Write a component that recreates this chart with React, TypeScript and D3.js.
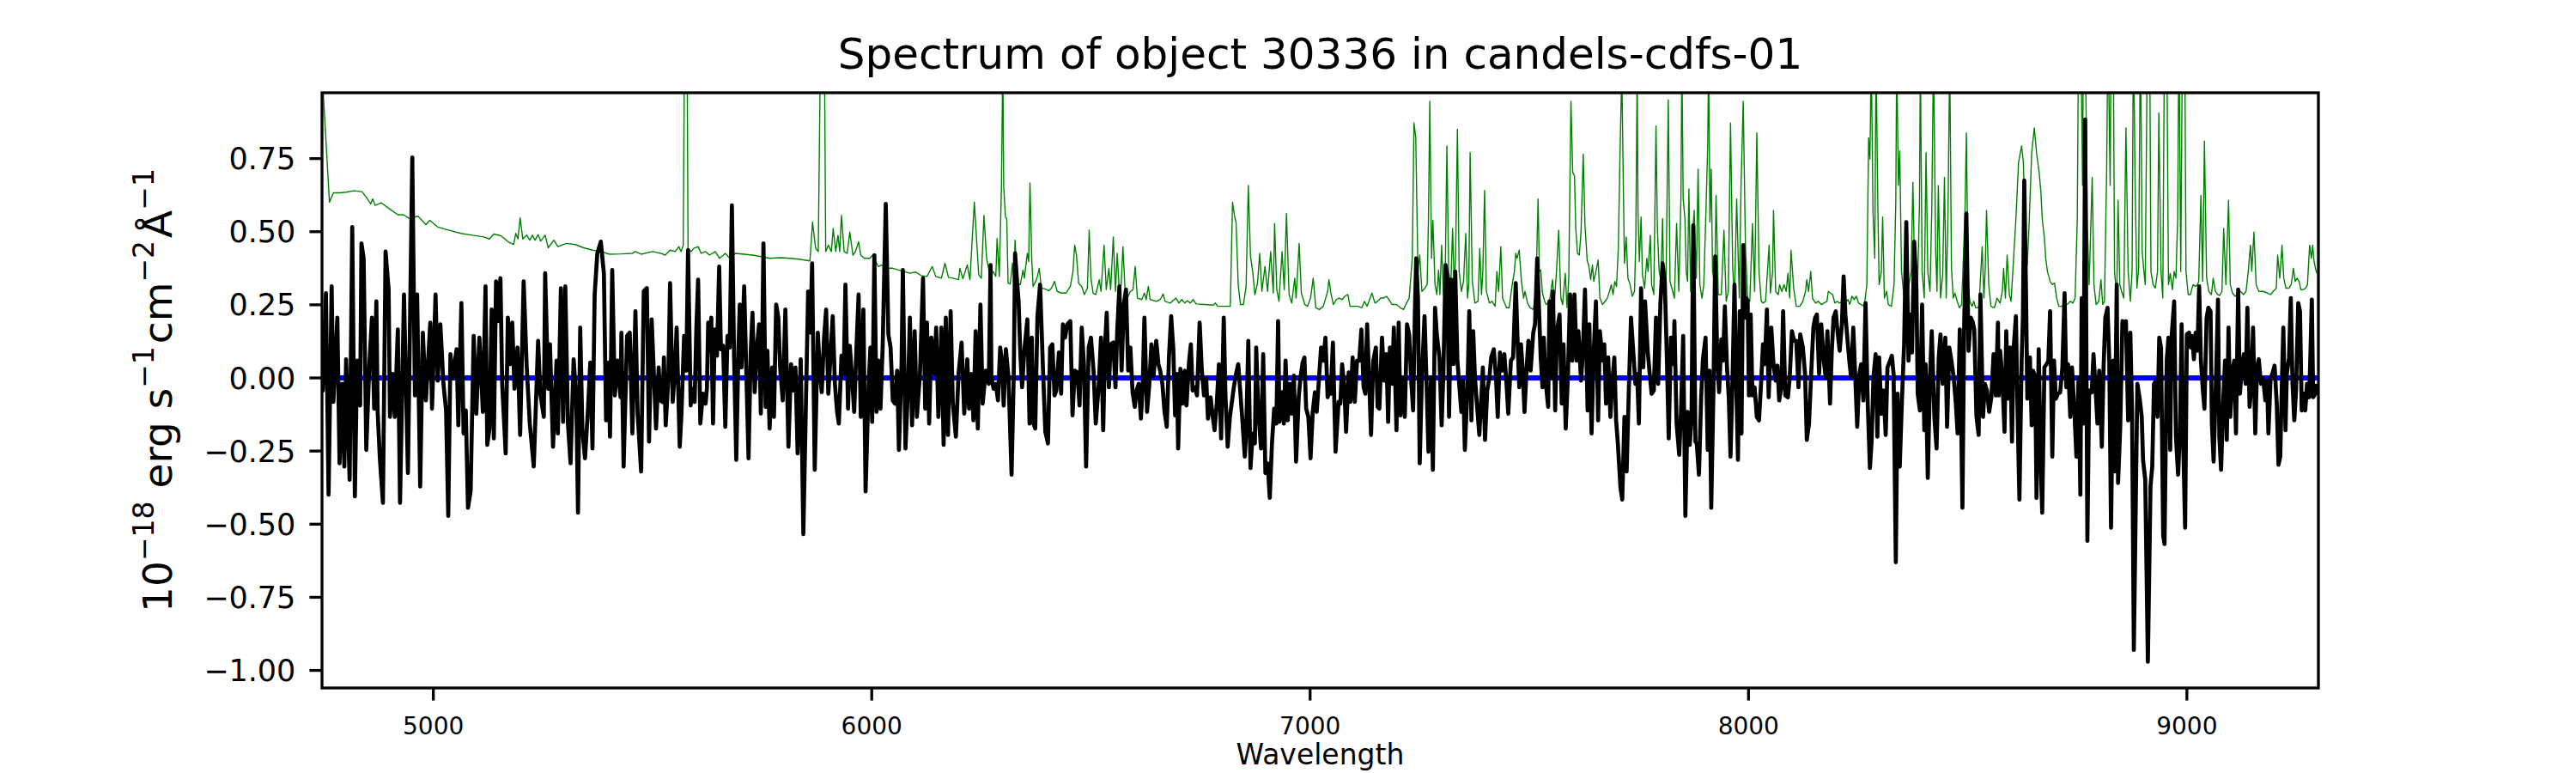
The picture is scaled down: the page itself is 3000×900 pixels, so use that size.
import * as d3 from 'd3';

const width = 3000;
const height = 900;
const margin = { top: 108, right: 300, bottom: 99, left: 375 };

const titleText = 'Spectrum of object 30336 in candels-cdfs-01';
const xLabelText = 'Wavelength';
const xDomain: [number, number] = [4746, 9300];
const yDomain: [number, number] = [-1.06, 0.975];
const xTickValues = [5000, 6000, 7000, 8000, 9000];
const yTickValues = [-1, -0.75, -0.5, -0.25, 0, 0.25, 0.5, 0.75];

const flux: [number, number][] = [
  [4746, 0.02], [4748, -0.043], [4755, 0.29], [4761, -0.399], [4768, 0.313], [4772, -0.082], [4781, 0.206],
  [4786, -0.292], [4792, -0.02], [4797, -0.303], [4801, 0.064], [4809, -0.348], [4815, 0.516], [4821, -0.405],
  [4826, 0.059], [4833, -0.094], [4836, 0.46], [4841, 0.409], [4847, -0.246], [4854, 0.047], [4860, 0.206],
  [4865, -0.105], [4870, 0.262], [4873, -0.116], [4878, -0.275], [4885, -0.427], [4891, 0.432], [4898, 0.302],
  [4901, -0.133], [4907, 0.014], [4912, -0.133], [4919, 0.166], [4924, -0.427], [4933, 0.285], [4942, -0.325],
  [4952, 0.754], [4958, -0.06], [4963, 0.285], [4970, -0.371], [4976, 0.155], [4983, -0.077], [4993, 0.189],
  [4997, -0.105], [5005, 0.285], [5010, -0.009], [5016, 0.183], [5023, -0.02], [5029, -0.111], [5034, -0.472],
  [5039, 0.081], [5044, 0.002], [5053, 0.098], [5057, -0.162], [5064, 0.256], [5069, -0.19], [5074, -0.111],
  [5079, -0.444], [5085, -0.388], [5092, 0.144], [5098, -0.122], [5105, 0.138], [5113, -0.116], [5119, 0.313],
  [5123, -0.229], [5128, -0.173], [5133, 0.234], [5138, -0.207], [5143, 0.33], [5147, 0.194], [5153, 0.341],
  [5157, -0.02], [5165, -0.258], [5170, 0.206], [5175, 0.047], [5180, 0.189], [5185, -0.037], [5192, 0.104],
  [5198, -0.195], [5206, 0.33], [5213, 0.036], [5220, -0.156], [5229, -0.303], [5239, 0.127], [5244, -0.054],
  [5252, -0.133], [5255, 0.358], [5262, -0.037], [5266, 0.115], [5273, -0.235], [5281, 0.059], [5284, -0.19],
  [5291, 0.307], [5296, -0.15], [5301, 0.313], [5307, -0.156], [5313, -0.292], [5320, 0.064], [5326, -0.071],
  [5330, -0.461], [5335, 0.172], [5340, -0.179], [5346, -0.275], [5353, -0.099], [5358, 0.053], [5363, -0.241],
  [5368, 0.285], [5374, 0.426], [5382, 0.466], [5389, 0.358], [5394, -0.145], [5399, 0.053], [5403, -0.201],
  [5408, 0.369], [5414, -0.06], [5420, 0.059], [5427, -0.066], [5429, 0.155], [5434, -0.303], [5442, 0.144],
  [5448, 0.155], [5454, -0.19], [5461, 0.228], [5466, -0.122], [5474, -0.32], [5480, 0.296], [5487, 0.307],
  [5492, -0.218], [5498, 0.2],
  [5508, -0.173], [5514, 0.036], [5518, -0.077], [5523, -0.082], [5526, 0.07], [5530, -0.162], [5536, -0.003],
  [5540, 0.324], [5546, -0.082], [5551, 0.025], [5555, 0.172], [5562, -0.235], [5566, -0.122], [5572, 0.144],
  [5577, 0.025], [5581, 0.437], [5587, -0.094], [5591, -0.037], [5596, -0.082], [5600, 0.172], [5604, 0.336],
  [5609, -0.156], [5615, -0.054], [5621, -0.088], [5624, -0.037], [5627, 0.189], [5630, 0.093], [5634, 0.206],
  [5638, -0.156], [5642, 0.166], [5647, 0.076], [5652, 0.381], [5656, 0.098], [5661, 0.11], [5666, -0.167],
  [5671, 0.144], [5676, 0.104], [5681, 0.59], [5686, 0.07], [5691, -0.28], [5696, 0.104], [5699, 0.251],
  [5703, 0.036], [5709, 0.313], [5714, 0.014], [5719, -0.275], [5724, 0.093], [5728, 0.223], [5733, -0.049],
  [5738, 0.104], [5743, 0.183], [5747, -0.122], [5750, 0.093], [5753, 0.46], [5758, -0.099], [5762, 0.093],
  [5767, -0.173], [5773, 0.036], [5777, -0.133], [5782, 0.251], [5787, 0.206], [5791, 0.036], [5797, -0.077],
  [5803, 0.234], [5810, -0.235], [5816, 0.047], [5821, -0.043], [5826, 0.036], [5831, -0.258], [5838, 0.064],
  [5844, -0.534], [5850, -0.077], [5855, 0.296], [5860, 0.155], [5864, 0.392], [5870, -0.314], [5877, 0.155],
  [5882, 0.014], [5886, -0.049], [5891, 0.132], [5896, 0.234], [5901, -0.054], [5906, 0.076], [5911, 0.211],
  [5916, -0.02], [5921, -0.116], [5925, -0.156], [5931, 0.076], [5936, 0.014], [5940, 0.319], [5946, -0.105],
  [5950, 0.11], [5955, 0.002], [5960, -0.116], [5964, 0.059], [5970, 0.285], [5975, -0.133], [5981, 0.234],
  [5986, -0.388], [5993, -0.02], [5997, 0.104], [6001, -0.15], [6006, 0.42], [6011, -0.116], [6015, 0.059],
  [6020, -0.105], [6025, 0.11], [6032, 0.595], [6038, 0.149], [6043, 0.104], [6048, -0.077], [6053, -0.088],
  [6058, 0.025], [6062, -0.246], [6068, 0.047], [6071, 0.369], [6077, -0.241], [6083, -0.026], [6087, 0.206],
  [6092, -0.162], [6098, 0.16], [6103, -0.133], [6110, 0.014], [6117, 0.341], [6122, -0.105], [6126, 0.189],
  [6131, -0.156], [6136, 0.138], [6143, 0.014], [6147, 0.172], [6152, -0.133], [6159, 0.172], [6164, -0.229],
  [6169, 0.206], [6174, -0.195], [6180, 0.228], [6185, -0.088], [6192, -0.201], [6198, 0.014], [6205, 0.121],
  [6211, -0.122], [6218, 0.064], [6222, -0.105], [6227, 0.014], [6232, -0.145], [6237, 0.16], [6242, -0.173],
  [6248, 0.251], [6253, -0.088], [6260, 0.025], [6267, -0.02], [6271, 0.386],
  [6273, 0.002], [6278, -0.037], [6283, -0.02], [6288, -0.077], [6293, 0.104], [6297, 0.059], [6301, -0.094],
  [6306, 0.098], [6312, 0.002], [6319, -0.331], [6324, 0.014], [6327, 0.426], [6332, 0.319], [6335, 0.262],
  [6339, 0.081], [6343, -0.032], [6348, 0.093], [6355, 0.2], [6360, -0.156], [6365, 0.138], [6369, -0.156],
  [6373, -0.173], [6378, 0.211], [6384, 0.319], [6391, 0.014], [6396, -0.184], [6402, -0.224], [6407, 0.104],
  [6412, 0.115], [6417, -0.06], [6421, -0.043], [6427, 0.087], [6432, -0.054], [6436, 0.183], [6441, 0.138],
  [6446, 0.183], [6453, 0.194], [6458, -0.128], [6463, 0.025], [6469, 0.019], [6474, -0.094], [6479, 0.172],
  [6484, 0.047], [6489, -0.303], [6495, 0.104], [6500, 0.138], [6506, 0.025], [6511, -0.156], [6518, -0.02],
  [6523, 0.138], [6528, -0.179], [6532, 0.104], [6536, 0.223], [6541, -0.032], [6545, 0.115], [6551, 0.121],
  [6556, -0.032], [6560, 0.16], [6565, 0.313], [6570, 0.025], [6575, 0.251], [6580, 0.302], [6585, 0.025],
  [6590, 0.104], [6595, -0.049], [6600, -0.099], [6604, -0.043], [6609, -0.02], [6614, -0.139], [6618, -0.032],
  [6622, 0.206], [6628, -0.116], [6633, -0.026], [6638, 0.115], [6643, 0.008], [6649, 0.127], [6654, 0.047],
  [6658, 0.025], [6663, -0.02], [6668, -0.116], [6673, -0.167], [6678, 0.07], [6683, 0.211], [6688, 0.098],
  [6692, -0.128], [6696, 0.014], [6699, -0.241], [6704, 0.031], [6709, -0.088], [6714, 0.025], [6718, -0.094],
  [6724, 0.059], [6728, 0.115], [6732, -0.043], [6737, -0.032], [6742, -0.06], [6748, 0.189], [6753, 0.025],
  [6758, -0.06], [6763, -0.003], [6767, -0.139], [6773, -0.066], [6778, -0.133], [6782, -0.179], [6787, -0.088],
  [6792, 0.047], [6797, -0.207], [6803, 0.206], [6807, -0.066], [6812, -0.235], [6817, -0.133], [6821, -0.088],
  [6826, -0.032], [6831, 0.014], [6836, 0.047], [6840, -0.032], [6846, -0.156], [6851, -0.269], [6854, -0.19],
  [6859, 0.127], [6864, -0.308], [6869, -0.19], [6874, -0.224], [6877, 0.104], [6882, -0.116], [6888, -0.241],
  [6893, 0.081], [6898, -0.325], [6903, -0.292], [6908, -0.41], [6913, -0.224], [6918, -0.105], [6923, -0.156],
  [6927, 0.194], [6930, -0.15], [6936, -0.049], [6940, -0.156], [6944, 0.059], [6949, -0.145], [6954, -0.02],
  [6958, -0.122], [6963, 0.008], [6968, -0.286], [6974, -0.066], [6978, 0.002], [6983, 0.053], [6987, 0.07],
  [6991, -0.105], [6996, -0.133], [7001, -0.275], [7006, -0.116], [7011, -0.049], [7015, -0.116], [7021, 0.014],
  [7025, 0.104], [7030, 0.059], [7035, 0.138], [7040, -0.066], [7045, -0.043],
  [7047, -0.054], [7052, 0.121], [7058, -0.252], [7065, -0.082], [7069, -0.088], [7073, 0.047], [7078, -0.032],
  [7082, -0.184], [7088, 0.019], [7092, -0.082], [7097, 0.07], [7102, -0.082], [7107, 0.059], [7112, 0.059],
  [7117, 0.166], [7122, -0.032], [7126, -0.054], [7130, 0.183], [7135, -0.02], [7139, -0.195], [7144, 0.059],
  [7150, 0.104], [7154, -0.099], [7158, -0.105], [7164, 0.138], [7169, -0.009], [7174, 0.081], [7178, -0.15],
  [7182, 0.104], [7187, -0.02], [7191, 0.172], [7197, -0.179], [7202, 0.189], [7206, -0.128], [7211, 0.002],
  [7216, -0.133], [7221, 0.183], [7226, 0.149], [7231, -0.02], [7235, -0.111], [7239, 0.228], [7242, 0.409],
  [7246, 0.273], [7250, -0.292], [7255, 0.002], [7261, 0.211], [7265, 0.014], [7270, -0.252], [7276, 0.002],
  [7280, -0.314], [7285, 0.24], [7289, 0.149], [7295, 0.07], [7300, -0.162], [7304, 0.019], [7309, 0.386],
  [7313, 0.341], [7317, -0.133], [7322, 0.336], [7327, 0.047], [7331, 0.364], [7336, 0.059], [7340, -0.02],
  [7345, -0.116], [7349, -0.009], [7353, -0.246], [7359, -0.032], [7363, 0.228], [7368, -0.145], [7372, 0.16],
  [7376, 0.002], [7381, -0.099], [7386, -0.195], [7391, -0.054], [7394, 0.036], [7399, -0.212], [7404, -0.043],
  [7409, 0.002], [7413, 0.07], [7419, 0.098], [7424, 0.002], [7428, -0.133], [7433, 0.087], [7438, 0.025],
  [7443, 0.081], [7448, -0.02], [7452, -0.122], [7458, 0.059], [7463, 0.07], [7469, 0.324], [7474, 0.093],
  [7477, -0.032], [7481, 0.115], [7485, 0.025], [7489, -0.116], [7494, 0.036], [7498, 0.127], [7503, 0.025],
  [7509, 0.155], [7513, 0.183], [7518, 0.409], [7522, 0.24], [7526, 0.07], [7530, -0.032], [7533, 0.138],
  [7537, -0.009], [7543, -0.099], [7546, 0.262], [7550, 0.002], [7554, 0.296], [7559, -0.111], [7563, 0.16],
  [7569, 0.217], [7574, -0.088], [7578, 0.115], [7583, -0.173], [7588, 0.002], [7593, 0.285], [7598, 0.059],
  [7603, 0.285], [7608, 0.059], [7612, 0.16], [7618, -0.009], [7622, 0.081], [7627, 0.302], [7633, -0.111],
  [7637, 0.183], [7642, -0.19], [7647, 0.093], [7652, 0.262], [7657, -0.145], [7661, 0.16], [7667, 0.059],
  [7671, 0.115], [7675, -0.088], [7680, 0.07], [7685, -0.133], [7689, -0.02], [7694, 0.07], [7698, -0.145],
  [7702, -0.224], [7708, -0.376], [7712, -0.416], [7717, -0.133], [7722, -0.32], [7727, -0.043], [7732, 0.206],
  [7737, 0.093], [7742, -0.02], [7746, 0.014], [7750, -0.156], [7755, 0.307], [7760, 0.036], [7764, 0.262],
  [7770, 0.093], [7774, 0.025], [7779, -0.054], [7784, -0.043], [7789, 0.206], [7794, -0.02], [7799, 0.251],
  [7804, 0.392], [7809, 0.33],
  [7814, 0.059], [7818, -0.207], [7823, 0.138], [7829, 0.047], [7831, 0.194], [7836, -0.156], [7842, -0.263],
  [7846, -0.116], [7851, 0.144], [7856, -0.472], [7861, -0.116], [7866, -0.229], [7870, -0.145], [7874, 0.522],
  [7879, -0.218], [7882, -0.224], [7887, -0.331], [7892, -0.066], [7896, 0.064], [7902, 0.138], [7907, -0.246],
  [7911, 0.025], [7915, -0.444], [7920, -0.043], [7924, 0.415], [7929, 0.047], [7933, -0.049], [7938, 0.132],
  [7942, 0.059], [7946, 0.245], [7951, 0.036], [7955, -0.066], [7959, -0.269], [7964, 0.025], [7968, 0.319],
  [7972, -0.02], [7976, -0.28], [7980, 0.228], [7984, -0.19], [7988, 0.454], [7992, 0.206], [7995, 0.273],
  [7998, 0.262], [8001, -0.06], [8005, 0.217], [8009, -0.06], [8014, -0.032], [8019, -0.133], [8024, -0.145],
  [8029, -0.009], [8033, 0.115], [8037, 0.047], [8042, 0.234], [8046, -0.066], [8052, 0.172], [8057, 0.047],
  [8062, -0.009], [8066, 0.042], [8070, -0.077], [8075, -0.032], [8079, 0.228], [8084, -0.06], [8090, -0.066],
  [8094, 0.002], [8099, 0.16], [8104, 0.127], [8109, 0.127], [8114, -0.032], [8118, 0.149], [8124, 0.104],
  [8129, 0.014], [8133, -0.212], [8138, -0.156], [8143, 0.014], [8148, 0.172], [8152, 0.206], [8156, 0.217],
  [8161, 0.014], [8166, 0.183], [8171, 0.07], [8176, 0.002], [8180, 0.16], [8186, -0.088], [8190, 0.093],
  [8194, 0.206], [8199, 0.228], [8203, 0.16], [8208, 0.093], [8213, 0.183], [8217, 0.347], [8221, 0.217],
  [8226, 0.127], [8230, 0.059], [8234, 0.002], [8239, 0.172], [8243, 0.025], [8248, -0.167], [8253, 0.014],
  [8257, 0.047], [8262, -0.077], [8267, 0.256], [8272, -0.088], [8277, -0.308], [8281, -0.212], [8285, 0.002],
  [8290, 0.081], [8294, -0.201], [8298, 0.07], [8303, -0.122], [8308, -0.043], [8313, -0.195], [8317, 0.036],
  [8323, 0.059], [8327, 0.076], [8331, 0.014], [8336, -0.63], [8340, -0.054], [8345, -0.303], [8350, -0.077],
  [8355, 0.115], [8360, 0.533], [8365, 0.059], [8370, 0.217], [8373, 0.087], [8378, 0.466], [8383, 0.307],
  [8386, -0.054], [8391, -0.111], [8396, 0.251], [8401, -0.179], [8404, 0.047], [8409, -0.342], [8414, 0.002],
  [8418, 0.16], [8424, -0.133], [8429, -0.241], [8434, 0.07], [8438, 0.149], [8443, -0.02], [8449, 0.138],
  [8453, -0.167], [8458, 0.104], [8463, 0.059], [8468, 0.002], [8473, -0.088], [8477, -0.19], [8482, 0.166],
  [8488, -0.444], [8492, 0.183], [8497, 0.562], [8502, 0.093], [8507, 0.206], [8511, 0.194], [8515, 0.166],
  [8520, -0.133], [8525, -0.195], [8529, 0.285], [8535, -0.133], [8539, -0.02], [8544, -0.043], [8549, -0.116],
  [8554, -0.066], [8559, 0.081], [8564, -0.06], [8569, 0.189],
  [8571, -0.06], [8574, 0.093], [8579, 0.002], [8584, -0.184], [8588, 0.16], [8592, -0.071], [8597, 0.104],
  [8601, -0.218], [8605, 0.104], [8610, 0.211], [8614, -0.133], [8618, -0.416], [8623, 0.059], [8626, 0.206],
  [8629, 0.675], [8633, 0.296], [8636, -0.071], [8639, 0.07], [8642, 0.07], [8646, -0.162], [8649, 0.025],
  [8654, 0.002], [8657, -0.41], [8662, 0.098], [8667, -0.314], [8670, -0.461], [8675, 0.036], [8680, 0.047],
  [8684, 0.059], [8688, 0.228], [8693, -0.269], [8697, 0.059], [8701, -0.071], [8706, -0.054], [8711, -0.049],
  [8716, 0.036], [8721, 0.29], [8725, -0.032], [8729, 0.047], [8734, -0.133], [8738, 0.036], [8744, -0.133],
  [8748, -0.269], [8753, 0.002], [8757, -0.399], [8760, 0.273], [8764, -0.156], [8768, 0.884], [8773, -0.557],
  [8777, -0.043], [8783, -0.049], [8787, 0.081], [8791, -0.02], [8796, -0.156], [8800, 0.025], [8806, -0.235],
  [8810, 0.036], [8814, 0.206], [8819, 0.24], [8823, 0.059], [8827, -0.512], [8832, 0.059], [8835, -0.319],
  [8840, 0.319], [8843, -0.359], [8848, -0.167], [8853, 0.194], [8856, 0.166], [8861, 0.194], [8866, -0.145],
  [8871, 0.155], [8875, -0.122], [8879, -0.93], [8887, -0.02], [8892, -0.066], [8897, -0.133], [8900, -0.28],
  [8905, -0.348], [8911, -0.97], [8917, -0.371], [8921, -0.303], [8925, -0.02], [8930, -0.009], [8933, -0.133],
  [8937, 0.138], [8941, 0.104], [8946, -0.54], [8949, -0.568], [8954, 0.059], [8958, 0.138], [8962, -0.246],
  [8965, 0.138], [8971, 0.262], [8975, -0.201], [8980, -0.331], [8984, -0.19], [8988, 0.183], [8992, -0.246],
  [8996, -0.512], [9000, 0.149], [9005, 0.155], [9009, 0.104], [9012, 0.144], [9016, 0.064], [9020, 0.155],
  [9024, 0.093], [9028, 0.313], [9032, 0.059], [9036, -0.032], [9040, -0.105], [9045, 0.206], [9049, 0.24],
  [9054, 0.228], [9057, -0.156], [9061, -0.286], [9067, 0.025], [9071, 0.268], [9074, -0.201], [9078, -0.314],
  [9083, -0.077], [9087, 0.059], [9091, -0.212], [9095, 0.172], [9099, -0.133], [9104, 0.025], [9108, 0.059],
  [9112, -0.19], [9117, 0.302], [9121, -0.054], [9125, 0.025], [9130, 0.081], [9134, -0.02], [9138, 0.24],
  [9143, -0.099], [9147, -0.032], [9151, 0.172], [9156, -0.19], [9160, 0.036], [9164, 0.064], [9169, -0.02],
  [9174, -0.003], [9179, -0.077], [9183, -0.009], [9186, -0.19], [9191, 0.002], [9195, 0.014], [9200, 0.042],
  [9205, -0.088], [9209, -0.297], [9213, -0.269], [9217, 0.002], [9220, 0.172], [9225, -0.179], [9228, 0.014],
  [9233, 0.07], [9237, 0.273], [9241, -0.02], [9245, -0.145], [9249, -0.043], [9254, 0.256], [9258, 0.228],
  [9262, -0.111], [9267, -0.054], [9270, -0.111], [9274, -0.02], [9279, -0.066], [9282, 0.093], [9285, 0.268],
  [9288, -0.066], [9293, -0.054], [9296, -0.02],
];

// contamination (green); values above the frame are clipped peaks
const contam: [number, number][] = [
  [4746, 1.05], [4763, 0.601], [4772, 0.633], [4788, 0.633], [4801, 0.635], [4818, 0.64], [4837, 0.637],
  [4847, 0.618], [4857, 0.595], [4862, 0.612], [4867, 0.59], [4881, 0.599], [4899, 0.579], [4919, 0.558],
  [4932, 0.558], [4945, 0.545], [4965, 0.553], [4983, 0.524], [4992, 0.539], [5010, 0.516], [5036, 0.505],
  [5063, 0.494], [5089, 0.488], [5115, 0.482], [5128, 0.475], [5138, 0.492], [5154, 0.486], [5170, 0.466],
  [5183, 0.456], [5188, 0.494], [5193, 0.475], [5198, 0.547], [5204, 0.475], [5213, 0.488], [5220, 0.471],
  [5226, 0.488], [5232, 0.471], [5239, 0.49], [5245, 0.468], [5255, 0.488], [5262, 0.445], [5275, 0.471],
  [5284, 0.449], [5304, 0.46], [5324, 0.456], [5343, 0.445], [5363, 0.437], [5382, 0.432], [5402, 0.423],
  [5428, 0.424], [5454, 0.426], [5461, 0.432], [5474, 0.423], [5500, 0.432],
  [5519, 0.426], [5529, 0.42], [5540, 0.437], [5552, 0.432], [5560, 0.449], [5565, 0.432], [5570, 0.454],
  [5574, 1.4], [5578, 1.4], [5581, 0.443], [5588, 0.432], [5594, 0.443], [5604, 0.449], [5611, 0.426],
  [5621, 0.432], [5630, 0.42], [5643, 0.432], [5653, 0.409], [5666, 0.426], [5676, 0.409], [5689, 0.426],
  [5709, 0.423], [5728, 0.42], [5748, 0.415], [5767, 0.409], [5793, 0.411], [5813, 0.409], [5833, 0.406],
  [5859, 0.4], [5865, 0.533], [5872, 0.443], [5878, 0.432], [5885, 1.4], [5891, 1.4], [5895, 0.432],
  [5901, 0.454], [5908, 0.432], [5912, 0.511], [5918, 0.432], [5923, 0.488], [5927, 0.432], [5931, 0.556],
  [5937, 0.432], [5944, 0.426], [5950, 0.499], [5957, 0.42], [5963, 0.432], [5970, 0.466], [5975, 0.42],
  [5983, 0.409], [5996, 0.409], [6002, 0.42], [6009, 0.398], [6015, 0.381], [6022, 0.386], [6035, 0.375],
  [6048, 0.375], [6061, 0.369], [6074, 0.364], [6087, 0.358], [6100, 0.362], [6113, 0.35], [6126, 0.347],
  [6138, 0.381], [6146, 0.347], [6159, 0.341], [6167, 0.392], [6175, 0.344], [6185, 0.341], [6198, 0.336],
  [6201, 0.375], [6208, 0.339], [6218, 0.386], [6224, 0.336], [6234, 0.601], [6244, 0.353], [6250, 0.341],
  [6256, 0.556], [6262, 0.409],
  [6270, 0.347], [6277, 0.364], [6283, 0.347], [6286, 0.477], [6291, 0.347], [6296, 0.658], [6299, 1.1],
  [6301, 0.658], [6305, 0.55], [6308, 0.545], [6311, 0.324], [6316, 0.321], [6321, 0.392], [6324, 0.319],
  [6327, 0.471], [6332, 0.324], [6339, 0.319], [6345, 0.369], [6348, 0.341], [6355, 0.426], [6358, 0.398],
  [6361, 0.667], [6365, 0.409], [6368, 0.313], [6374, 0.33], [6378, 0.347], [6382, 0.375], [6387, 0.307],
  [6394, 0.305], [6404, 0.298], [6410, 0.307], [6417, 0.33], [6423, 0.296], [6433, 0.29], [6443, 0.29],
  [6453, 0.313], [6459, 0.364], [6463, 0.454], [6467, 0.42], [6472, 0.324], [6479, 0.313], [6485, 0.285],
  [6492, 0.307], [6496, 0.505], [6500, 0.341], [6505, 0.29], [6511, 0.285], [6519, 0.336], [6523, 0.296],
  [6530, 0.454], [6535, 0.302], [6541, 0.375], [6545, 0.302], [6551, 0.482], [6556, 0.296], [6560, 0.426],
  [6565, 0.29], [6569, 0.319], [6573, 0.449], [6578, 0.296], [6583, 0.273], [6590, 0.296], [6596, 0.302],
  [6601, 0.381], [6606, 0.273], [6616, 0.268], [6622, 0.29], [6626, 0.268], [6631, 0.313], [6635, 0.268],
  [6649, 0.262], [6658, 0.268], [6665, 0.287], [6669, 0.262], [6681, 0.256], [6694, 0.273], [6701, 0.256],
  [6707, 0.268], [6714, 0.256], [6720, 0.264], [6727, 0.256], [6733, 0.268], [6740, 0.253], [6759, 0.251],
  [6779, 0.249], [6784, 0.256], [6789, 0.245], [6818, 0.245], [6823, 0.601], [6828, 0.55], [6831, 0.533],
  [6836, 0.319], [6841, 0.251], [6848, 0.251], [6854, 0.313], [6859, 0.658], [6864, 0.415], [6869, 0.364],
  [6874, 0.285], [6880, 0.324], [6885, 0.426], [6890, 0.296], [6897, 0.381], [6903, 0.296], [6910, 0.432],
  [6916, 0.29], [6919, 0.528], [6924, 0.302], [6929, 0.262], [6936, 0.432], [6941, 0.302], [6946, 0.562],
  [6952, 0.285], [6958, 0.256], [6965, 0.341], [6968, 0.273], [6975, 0.46], [6980, 0.29], [6988, 0.251],
  [6994, 0.245], [7001, 0.273], [7007, 0.341], [7013, 0.24], [7021, 0.234], [7030, 0.245], [7040, 0.296],
  [7043, 0.336], [7048, 0.285], [7053, 0.251], [7060, 0.268], [7066, 0.273], [7073, 0.268], [7079, 0.279],
  [7086, 0.285], [7091, 0.245], [7099, 0.245], [7109, 0.245], [7118, 0.24], [7124, 0.262], [7130, 0.245],
  [7137, 0.273], [7141, 0.29], [7148, 0.256], [7154, 0.262], [7161, 0.273], [7167, 0.273], [7174, 0.279],
  [7180, 0.268], [7187, 0.251], [7197, 0.251], [7206, 0.24], [7213, 0.234], [7220, 0.256], [7226, 0.273],
  [7233, 0.409], [7237, 0.872], [7241, 0.822], [7246, 0.364], [7250, 0.42], [7255, 0.296], [7262, 0.307],
  [7267, 0.319], [7270, 0.545], [7273, 0.946], [7277, 0.409], [7280, 0.539], [7285, 0.319], [7289, 0.285],
  [7293, 0.369], [7296, 0.285], [7300, 0.454], [7304, 0.285], [7308, 0.33], [7312, 0.793], [7316, 0.364],
  [7321, 0.319], [7325, 0.511], [7329, 0.296], [7332, 0.432], [7336, 0.85], [7340, 0.364], [7345, 0.296],
  [7350, 0.33], [7355, 0.494], [7359, 0.273], [7362, 0.319], [7365, 0.771], [7370, 0.33], [7376, 0.256],
  [7383, 0.262], [7387, 0.443], [7391, 0.285], [7394, 0.364], [7398, 0.641], [7402, 0.296], [7409, 0.256],
  [7415, 0.262], [7422, 0.245], [7426, 0.364], [7430, 0.296], [7435, 0.449], [7439, 0.273], [7448, 0.24],
  [7454, 0.24], [7461, 0.319], [7466, 0.364], [7469, 0.426], [7472, 0.409], [7477, 0.437], [7482, 0.33],
  [7487, 0.273], [7490, 0.296], [7496, 0.256], [7502, 0.24], [7509, 0.234], [7515, 0.296], [7520, 0.612],
  [7523, 0.364], [7526, 0.369], [7530, 0.29], [7535, 0.262], [7539, 0.251], [7546, 0.262], [7553, 0.336],
  [7557, 0.251], [7562, 0.364], [7567, 0.505], [7572, 0.273], [7576, 0.251], [7582, 0.358], [7586, 0.24],
  [7590, 0.341], [7595, 0.946], [7599, 0.703], [7603, 0.692], [7606, 0.511], [7610, 0.426], [7614, 0.42],
  [7618, 0.499], [7623, 0.765], [7627, 0.522], [7632, 0.403], [7636, 0.381], [7640, 0.336], [7644, 0.386],
  [7647, 0.33], [7652, 0.364], [7657, 0.403], [7661, 0.273], [7667, 0.251], [7673, 0.262], [7678, 0.273],
  [7683, 0.296], [7687, 0.319], [7691, 0.285], [7695, 0.33], [7699, 0.313], [7703, 0.443], [7707, 0.771],
  [7711, 1.05], [7714, 0.714], [7717, 0.392], [7721, 0.482], [7725, 0.341], [7730, 0.319], [7735, 0.279],
  [7740, 0.296], [7743, 0.477], [7746, 1.05], [7748, 0.567], [7751, 0.398], [7755, 0.55], [7758, 0.353],
  [7763, 0.307], [7768, 0.409], [7771, 0.364], [7776, 0.488], [7779, 0.319], [7784, 0.285], [7789, 0.861],
  [7792, 0.522], [7796, 0.369], [7800, 0.33], [7804, 0.545],
  [7807, 0.273], [7812, 0.341], [7817, 0.951], [7821, 0.33], [7827, 0.296], [7831, 0.273], [7836, 0.528],
  [7841, 0.296], [7846, 0.624], [7848, 1.1], [7851, 0.612], [7855, 0.545], [7858, 0.364], [7861, 0.33],
  [7864, 0.646], [7868, 0.296], [7872, 0.477], [7876, 0.573], [7881, 0.341], [7885, 0.714], [7889, 0.319],
  [7894, 0.273], [7898, 0.319], [7902, 0.522], [7907, 0.793], [7909, 1.1], [7912, 0.533], [7915, 0.714],
  [7918, 0.364], [7923, 0.319], [7926, 0.624], [7931, 0.285], [7938, 0.285], [7944, 0.505], [7949, 0.262],
  [7954, 0.296], [7959, 0.872], [7964, 0.375], [7968, 0.273], [7973, 0.612], [7979, 0.273], [7983, 0.658],
  [7988, 0.946], [7993, 0.454], [7998, 0.273], [8003, 0.262], [8009, 0.528], [8014, 0.296], [8019, 0.838],
  [8024, 0.364], [8029, 0.262], [8033, 0.256], [8039, 0.262], [8047, 0.454], [8050, 0.29], [8055, 0.364],
  [8057, 0.573], [8062, 0.296], [8068, 0.285], [8071, 0.319], [8076, 0.296], [8081, 0.319], [8086, 0.296],
  [8090, 0.358], [8094, 0.273], [8097, 0.437], [8103, 0.307], [8109, 0.245], [8117, 0.245], [8124, 0.262],
  [8130, 0.296], [8133, 0.336], [8137, 0.296], [8142, 0.364], [8146, 0.273], [8153, 0.256], [8159, 0.262],
  [8166, 0.251], [8172, 0.256], [8179, 0.262], [8182, 0.296], [8187, 0.29], [8192, 0.285], [8197, 0.256],
  [8202, 0.262], [8208, 0.256], [8215, 0.262], [8221, 0.256], [8227, 0.268], [8231, 0.251], [8236, 0.279],
  [8241, 0.268], [8246, 0.279], [8251, 0.256], [8257, 0.251], [8264, 0.245], [8270, 0.319], [8274, 0.821],
  [8277, 0.748], [8280, 1.1], [8284, 0.567], [8288, 0.409], [8291, 1.1], [8295, 0.59], [8298, 0.319],
  [8303, 0.364], [8306, 0.55], [8310, 0.273], [8315, 0.296], [8319, 0.251], [8326, 0.245], [8332, 0.319],
  [8336, 0.601], [8338, 1.1], [8342, 0.658], [8345, 0.776], [8349, 0.364], [8355, 0.273], [8362, 0.262],
  [8366, 0.319], [8371, 0.364], [8375, 0.669], [8379, 0.364], [8385, 0.273], [8390, 0.59], [8392, 1.1],
  [8396, 0.364], [8401, 0.273], [8405, 0.771], [8409, 0.364], [8414, 0.296], [8418, 0.567], [8422, 1.1],
  [8427, 0.432], [8430, 0.296], [8433, 0.658], [8438, 0.273], [8443, 0.353], [8447, 0.686], [8451, 0.273],
  [8455, 0.556], [8459, 1.1], [8463, 0.375], [8467, 0.273], [8471, 0.29], [8476, 0.262], [8481, 0.24],
  [8486, 0.251], [8489, 0.364], [8494, 0.579], [8497, 0.838], [8501, 0.319], [8505, 0.262], [8510, 0.245],
  [8514, 0.262], [8518, 0.24], [8525, 0.24], [8528, 0.307], [8533, 0.449], [8537, 0.273], [8540, 0.375],
  [8543, 0.573], [8548, 0.319], [8553, 0.245], [8561, 0.24], [8567, 0.273], [8574, 0.256],
  [8579, 0.296], [8582, 0.375], [8586, 0.273], [8590, 0.42], [8595, 0.285], [8599, 0.262], [8603, 0.364],
  [8610, 0.545], [8616, 0.737], [8623, 0.793], [8627, 0.737], [8631, 0.522], [8636, 0.386], [8640, 0.522],
  [8646, 0.771], [8652, 0.855], [8657, 0.771], [8663, 0.703], [8667, 0.635], [8670, 0.545], [8675, 0.477],
  [8678, 0.409], [8682, 0.364], [8685, 0.347], [8688, 0.33], [8693, 0.319], [8698, 0.324], [8703, 0.273],
  [8708, 0.245], [8714, 0.245], [8721, 0.251], [8727, 0.251], [8734, 0.262], [8740, 0.256], [8745, 0.273],
  [8750, 0.545], [8753, 1.2], [8758, 1.2], [8762, 0.658], [8764, 1.2], [8768, 1.2], [8773, 0.522],
  [8777, 0.319], [8784, 0.686], [8788, 0.319], [8793, 0.251], [8799, 0.262], [8804, 0.336], [8808, 0.251],
  [8812, 0.262], [8817, 0.714], [8820, 1.2], [8825, 0.658], [8827, 1.2], [8832, 1.2], [8835, 0.364],
  [8840, 0.273], [8843, 0.607], [8847, 0.319], [8851, 0.296], [8856, 0.273], [8861, 0.855], [8866, 0.364],
  [8871, 0.262], [8875, 0.364], [8878, 1.2], [8882, 0.658], [8886, 0.307], [8890, 0.375], [8894, 1.2],
  [8898, 0.432], [8902, 0.364], [8905, 0.319], [8910, 1.2], [8915, 1.2], [8918, 0.364], [8923, 0.319],
  [8928, 0.307], [8933, 0.364], [8936, 0.906], [8941, 0.364], [8945, 0.273], [8949, 1.2], [8954, 1.2],
  [8958, 0.319], [8962, 0.358], [8967, 0.302], [8971, 0.364], [8975, 0.341], [8979, 0.545], [8982, 1.2],
  [8986, 0.364], [8990, 1.2], [8995, 1.2], [8998, 0.364], [9003, 0.285], [9008, 0.285], [9014, 0.319],
  [9019, 0.313], [9024, 0.319], [9027, 0.33], [9032, 0.624], [9036, 0.33], [9040, 0.81], [9045, 0.341],
  [9050, 0.296], [9056, 0.285], [9060, 0.341], [9065, 0.296], [9070, 0.285], [9075, 0.282], [9080, 0.296],
  [9084, 0.511], [9089, 0.319], [9095, 0.607], [9099, 0.319], [9104, 0.29], [9110, 0.279], [9117, 0.29],
  [9122, 0.296], [9129, 0.285], [9135, 0.296], [9140, 0.364], [9145, 0.454], [9148, 0.364], [9153, 0.499],
  [9158, 0.319], [9164, 0.296], [9174, 0.296], [9184, 0.29], [9191, 0.285], [9197, 0.296], [9204, 0.307],
  [9207, 0.42], [9212, 0.341], [9217, 0.454], [9221, 0.341], [9226, 0.307], [9233, 0.307], [9238, 0.319],
  [9243, 0.375], [9247, 0.33], [9251, 0.341], [9256, 0.33], [9260, 0.302], [9266, 0.302], [9271, 0.307],
  [9275, 0.319], [9280, 0.454], [9284, 0.409], [9287, 0.454], [9290, 0.398], [9296, 0.358],
];

// model (blue), flat at zero across the range
const model: [number, number][] = [[4746, 0], [9300, 0]];

const FONT = "'DejaVu Sans', 'Liberation Sans', sans-serif";

export default function App() {
  const innerWidth = width - margin.left - margin.right;
  const innerHeight = height - margin.top - margin.bottom;
  const x = d3.scaleLinear().domain(xDomain).range([margin.left, margin.left + innerWidth]);
  const y = d3.scaleLinear().domain(yDomain).range([margin.top + innerHeight, margin.top]);
  const line = d3
    .line<[number, number]>()
    .x((d) => x(d[0]))
    .y((d) => y(d[1]));
  const fmt = d3.format('.2f');
  const tickLen = 14.6;
  const tickW = 3.3;
  const midY = margin.top + innerHeight / 2;

  return (
    <svg
      width={width}
      height={height}
      style={{ position: 'absolute', left: 0, top: 0, background: '#ffffff' }}
      fontFamily={FONT}
    >
      <defs>
        <clipPath id="plot-area">
          <rect x={margin.left} y={margin.top} width={innerWidth} height={innerHeight} />
        </clipPath>
      </defs>
      <rect x={0} y={0} width={width} height={height} fill="#ffffff" />

      <g clipPath="url(#plot-area)" fill="none" strokeLinejoin="round">
        <path d={line(model) ?? ''} stroke="#0000ff" strokeWidth={6} />
        <path d={line(contam) ?? ''} stroke="#008000" strokeWidth={1.4} />
        <path d={line(flux) ?? ''} stroke="#000000" strokeWidth={4.7} />
      </g>

      <rect
        x={margin.left}
        y={margin.top}
        width={innerWidth}
        height={innerHeight}
        fill="none"
        stroke="#000000"
        strokeWidth={tickW}
      />

      {xTickValues.map((t) => (
        <g key={`x${t}`}>
          <line
            x1={x(t)}
            x2={x(t)}
            y1={margin.top + innerHeight}
            y2={margin.top + innerHeight + tickLen}
            stroke="#000000"
            strokeWidth={tickW}
          />
          <text x={x(t)} y={855} textAnchor="middle" fontSize={28} fill="#000000">
            {t}
          </text>
        </g>
      ))}

      {yTickValues.map((t) => (
        <g key={`y${t}`}>
          <line
            x1={margin.left - tickLen}
            x2={margin.left}
            y1={y(t)}
            y2={y(t)}
            stroke="#000000"
            strokeWidth={tickW}
          />
          <text
            x={margin.left - tickLen - 16}
            y={y(t) + 12.6}
            textAnchor="end"
            fontSize={35}
            fill="#000000"
          >
            {fmt(t)}
          </text>
        </g>
      ))}

      <text x={margin.left + innerWidth / 2} y={80} textAnchor="middle" fontSize={50} fill="#000000">
        {titleText}
      </text>

      <text x={margin.left + innerWidth / 2} y={890} textAnchor="middle" fontSize={33} fill="#000000">
        {xLabelText}
      </text>

      <text
        transform={`translate(200,${midY}) rotate(-90)`}
        textAnchor="middle"
        fontSize={47}
        fill="#000000"
      >
        <tspan>10</tspan>
        <tspan fontSize={33} dy={-21}>−18</tspan>
        <tspan dy={21}> erg s</tspan>
        <tspan fontSize={33} dy={-21}>−1</tspan>
        <tspan dy={21} dx={3}>cm</tspan>
        <tspan fontSize={33} dy={-21}>−2</tspan>
        <tspan dy={21} dx={3}>Å</tspan>
        <tspan fontSize={33} dy={-21}>−1</tspan>
      </text>
    </svg>
  );
}
